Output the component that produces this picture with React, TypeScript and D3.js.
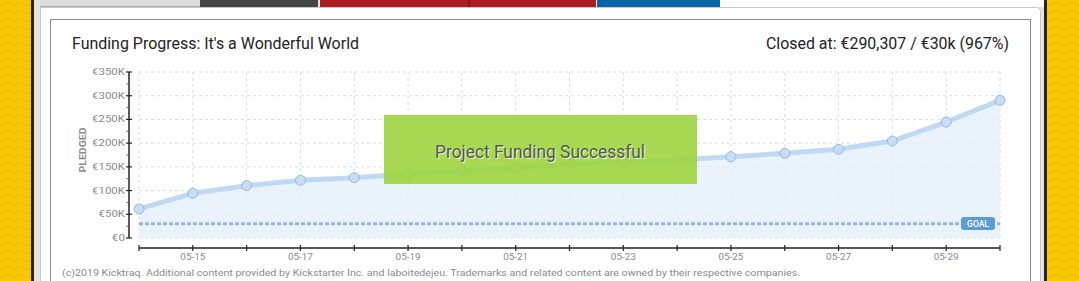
import React from "react";
import * as d3 from "d3";

const dates = ["05-14","05-15","05-16","05-17","05-18","05-19","05-20","05-21","05-22","05-23","05-24","05-25","05-26","05-27","05-28","05-29","05-30"];
const pledged = [61200, 94200, 110300, 121600, 127100, 134900, 141900, 148200, 156000, 160200, 164400, 171400, 178500, 187000, 204500, 244500, 290307];
const yTicks = [0, 50000, 100000, 150000, 200000, 250000, 300000, 350000];
const yTickLabels = ["€0", "€50K", "€100K", "€150K", "€200K", "€250K", "€300K", "€350K"];
const xLabels = ["05-15", "05-17", "05-19", "05-21", "05-23", "05-25", "05-27", "05-29"];
const goal = 30000;
const titleText = "Funding Progress: It's a Wonderful World";
const closedText = "Closed at:  €290,307 /  €30k (967%)";
const bannerText = "Project Funding Successful";
const footerText = "(c)2019 Kicktraq. Additional content provided by Kickstarter Inc. and laboitedejeu. Trademarks and related content are owned by their respective companies.";

const W = 1079, H = 281;
const FONT = "Roboto, 'DejaVu Sans', sans-serif";

export default function App() {
  const x = d3.scalePoint<string>().domain(dates).range([139, 1000]);
  const y = d3.scaleLinear().domain([0, 350000]).range([238, 72]);
  const pts = dates.map((d, i) => [x(d) as number, y(pledged[i])] as [number, number]);
  const line = d3.line<[number, number]>().x(p => p[0]).y(p => p[1])(pts) || "";
  const area = d3.area<[number, number]>().x(p => p[0]).y0(y(0)).y1(p => p[1])(pts) || "";
  const minor = d3.range(25000, 350000, 50000);
  const gy = y(goal);

  return (
    <div style={{ position: "absolute", left: 0, top: 0 }}>
      <svg width={W} height={H} style={{ display: "block" }}>
        <defs>
          <pattern id="zig" width="14" height="8" patternUnits="userSpaceOnUse">
            <rect width="14" height="8" fill="#f8c800" />
            <path d="M0 6 L7 2 L14 6" fill="none" stroke="#efbf00" strokeWidth="1.2" />
          </pattern>
        </defs>
        {/* background */}
        <rect x={0} y={0} width={W} height={H} fill="url(#zig)" />
        <rect x={31} y={0} width={3} height={H} fill="#2a2218" />
        <rect x={1044} y={0} width={3} height={H} fill="#2a2218" />
        <rect x={34} y={0} width={1010} height={H} fill="#e4e4e4" />
        {/* tabs */}
        <rect x={40} y={0} width={160} height={7} fill="#dedede" />
        <rect x={40} y={6} width={160} height={1} fill="#aaa" />
        <rect x={200} y={0} width={118} height={7} fill="#454545" />
        <rect x={320} y={0} width={148} height={7} fill="#ad1c1f" />
        <rect x={468} y={0} width={2} height={7} fill="#8a1517" />
        <rect x={470} y={0} width={126} height={7} fill="#ad1c1f" />
        <rect x={597} y={0} width={123} height={7} fill="#0a64a8" />
        <rect x={720} y={0} width={324} height={7} fill="#ffffff" />
        {/* panel */}
        <path d={`M40.5 ${H} V7.5 H1036.5 Q1040.5 7.5 1040.5 11.5 V${H}`} fill="#ffffff" stroke="#c8c8c8" />
        <rect x={50.5} y={19.5} width={980} height={H} fill="#ffffff" stroke="#8a8a8a" />

        {/* titles */}
        <text x={72} y={49} fontFamily={FONT} fontSize={16} fill="#222" textLength={287} lengthAdjust="spacingAndGlyphs">{titleText}</text>
        <text x={1009} y={49} fontFamily={FONT} fontSize={16} fill="#222" textAnchor="end" textLength={243} lengthAdjust="spacingAndGlyphs">{closedText}</text>

        {/* grid */}
        {yTicks.map(t => (
          <line key={"gh" + t} x1={139} x2={1000} y1={y(t)} y2={y(t)} stroke="#dcdcdc" strokeDasharray="3,3" />
        ))}
        {dates.map(d => (
          <line key={"gv" + d} x1={x(d)} x2={x(d)} y1={72} y2={238} stroke="#dcdcdc" strokeDasharray="3,3" />
        ))}

        {/* area + line */}
        <path d={area} fill="#e3effb" opacity={0.75} />
        <line x1={139} x2={1000} y1={gy} y2={gy} stroke="#93b8df" strokeWidth={3} strokeDasharray="4,2" />
        <path d={line} fill="none" stroke="#bfd9f4" strokeWidth={5} strokeLinejoin="round" strokeLinecap="round" />
        {pts.map((p, i) => (
          <circle key={"pt" + i} cx={p[0]} cy={p[1]} r={5} fill="#c8ddf3" stroke="#96b9df" strokeWidth={1} />
        ))}

        {/* goal badge */}
        <rect x={961} y={217} width={34} height={13} rx={3} fill="#5d9bd6" />
        <text x={978} y={226.8} fontFamily={FONT} fontSize={8.5} fill="#fff" textAnchor="middle" fontWeight={500}>GOAL</text>

        {/* y axis */}
        <line x1={129} x2={129} y1={72} y2={238} stroke="#222" strokeWidth={1.5} />
        {yTicks.map((t, i) => (
          <g key={"yt" + t}>
            <line x1={126} x2={132} y1={y(t)} y2={y(t)} stroke="#222" strokeWidth={1.2} />
            <text x={125} y={y(t) + 3} fontFamily={FONT} fontSize={9} fill="#8a8a8a" textAnchor="end" textLength={yTickLabels[i].length * 6.6} lengthAdjust="spacingAndGlyphs">{yTickLabels[i]}</text>
          </g>
        ))}
        {minor.map(t => (
          <line key={"mn" + t} x1={126.5} x2={129} y1={y(t)} y2={y(t)} stroke="#c0392b" strokeWidth={1} />
        ))}
        <text transform="translate(85.5,150) rotate(-90)" fontFamily={FONT} fontSize={9} fontWeight={700} fill="#8a8a8a" textAnchor="middle" textLength={45} lengthAdjust="spacingAndGlyphs">PLEDGED</text>

        {/* x axis */}
        <line x1={139} x2={1000} y1={248} y2={248} stroke="#222" strokeWidth={1.5} />
        {dates.map(d => (
          <line key={"xt" + d} x1={x(d)} x2={x(d)} y1={245} y2={251} stroke="#222" strokeWidth={1.2} />
        ))}
        {xLabels.map(d => (
          <text key={"xl" + d} x={x(d)} y={260} fontFamily={FONT} fontSize={9.5} fill="#8a8a8a" textAnchor="middle" textLength={25} lengthAdjust="spacingAndGlyphs">{d}</text>
        ))}

        {/* success banner */}
        <rect x={384} y={115} width={313} height={69} fill="#9cd43a" opacity={0.88} />
        <text x={541} y={158.5} fontFamily={FONT} fontSize={19} fill="#ffffff" textAnchor="middle" textLength={210} lengthAdjust="spacingAndGlyphs" opacity={0.8}>{bannerText}</text>
        <text x={540} y={157.5} fontFamily={FONT} fontSize={19} fill="#555" textAnchor="middle" textLength={210} lengthAdjust="spacingAndGlyphs">{bannerText}</text>

        {/* footer */}
        <text x={62} y={276} fontFamily={FONT} fontSize={9} fill="#8a8a8a" textLength={738} lengthAdjust="spacingAndGlyphs">{footerText}</text>
      </svg>
    </div>
  );
}
